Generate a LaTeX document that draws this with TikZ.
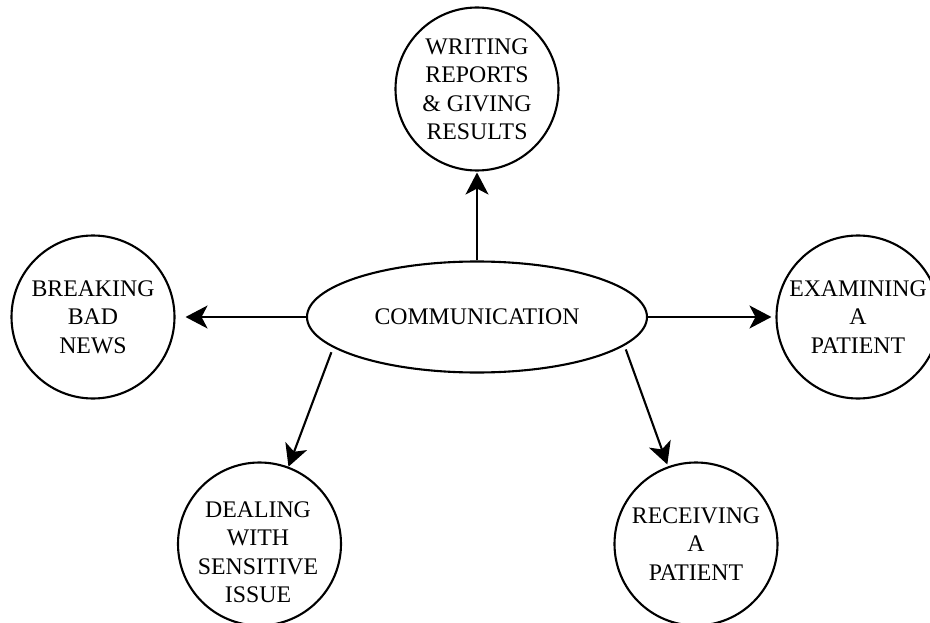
\documentclass[tikz,border=0pt]{standalone}
\usepackage{fontspec}
\setmainfont{Liberation Serif}
\usetikzlibrary{shapes.geometric,arrows.meta}
\tikzset{
  topic/.style={circle,draw,line width=2.1pt,minimum size=163pt,inner sep=0pt,align=center,
    font=\fontsize{23.8}{28.5}\selectfont},
  hub/.style={ellipse,draw,line width=2.1pt,minimum width=340pt,minimum height=111pt,inner sep=0pt,
    font=\fontsize{23.8}{28.5}\selectfont},
  arr/.style={line width=2.1pt,-{Stealth[length=22pt,width=23pt,inset=6pt]}}
}
\begin{document}
\begin{tikzpicture}[x=1pt,y=-1pt]
\clip (0,0) rectangle (930,623);
\node[hub] (comm) at (477,317) {COMMUNICATION};
\node[topic] (write) at (477,89) {WRITING\\REPORTS\\\& GIVING\\RESULTS};
\node[topic] (break) at (93,317) {BREAKING\\BAD\\NEWS};
\node[topic] (exam) at (858,317) {EXAMINING\\A\\PATIENT};
\node[topic] (deal) at (259.5,544) {};
\node[font=\fontsize{23.8}{28.5}\selectfont,align=center,inner sep=0pt] (dealtext) at (258,552) {DEALING\\WITH\\SENSITIVE\\ISSUE};
\node[topic] (recv) at (696,544) {RECEIVING\\A\\PATIENT};
\draw[arr,shorten >=1pt] (comm.north) -- (write.south);
\draw[arr,shorten >=10pt] (comm.west) -- (break.east);
\draw[arr,shorten >=4pt] (comm.east) -- (exam.west);
\draw[arr,shorten <=5pt] (comm.192) -- (deal);
\draw[arr,shorten <=4pt,shorten >=2pt] (comm.-11) -- (recv);
\end{tikzpicture}
\end{document}
